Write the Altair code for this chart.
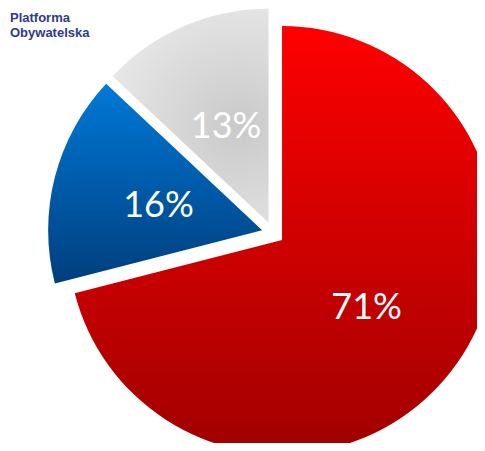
import math
import altair as alt
import pandas as pd

# data
categories = ["A", "B", "C"]
values = [71, 16, 13]
labels = ["71%", "16%", "13%"]
order = [0, 1, 2]

logo_lines = ["Platforma", "Obywatelska"]

df = pd.DataFrame({"name": categories, "value": values, "label": labels, "order": order})

CX, CY = 265.1, 225.1   # pie centre in view pixels
EXPLODE = 11.3
R = 214
LR = 107

def grad_linear(c0, c1):
    return alt.Gradient(
        gradient="linear",
        stops=[alt.GradientStop(color=c0, offset=0), alt.GradientStop(color=c1, offset=1)],
        x1=0, x2=0, y1=0, y2=1,
    )

fills = {
    "A": grad_linear("#FF0000", "#A00000"),
    "B": grad_linear("#0079D6", "#003E7E"),
    "C": alt.Gradient(
        gradient="radial",
        stops=[alt.GradientStop(color="#C9C9C9", offset=0), alt.GradientStop(color="#EDEDED", offset=1)],
        x1=0.72, y1=0.55, r1=0, x2=0.72, y2=0.55, r2=0.75,
    ),
}

base = (
    alt.Chart(df)
    .transform_window(cum="sum(value)", sort=[alt.SortField("order")], frame=[None, 0])
    .transform_calculate(
        start="(datum.cum - datum.value) / 100 * 2 * PI",
        end="datum.cum / 100 * 2 * PI",
    )
    .transform_calculate(mid="(datum.start + datum.end) / 2")
    .transform_calculate(
        cx=f"{CX} + {EXPLODE} * sin(datum.mid)",
        cy=f"{CY} - {EXPLODE} * cos(datum.mid)",
    )
    .transform_calculate(
        lx=f"datum.cx + {LR} * sin(datum.mid)",
        ly=f"datum.cy - {LR} * cos(datum.mid)",
    )
)

layers = []
for cat in categories:
    layers.append(
        base.transform_filter(alt.datum.name == cat)
        .mark_arc(outerRadius=R, color=fills[cat], strokeWidth=0)
        .encode(
            theta=alt.Theta("start:Q", scale=None),
            theta2="end:Q",
            x=alt.X("cx:Q", scale=None, axis=None),
            y=alt.Y("cy:Q", scale=None, axis=None),
        )
    )

text = base.mark_text(font="Lato", fontSize=36, color="white", align="center", baseline="middle", dy=2).encode(
    x=alt.X("lx:Q", scale=None, axis=None),
    y=alt.Y("ly:Q", scale=None, axis=None),
    text="label:N",
)
layers.append(text)

logo_df = pd.DataFrame({"t": logo_lines, "row": [0, 1]})
logo = (
    alt.Chart(logo_df)
    .transform_calculate(py="10 + datum.row * 15")
    .mark_text(
        font="Liberation Sans", fontSize=13, fontWeight="bold", color="#2E3A8C",
        align="left", baseline="middle",
    )
    .encode(
        x=alt.value(2),
        y=alt.Y("py:Q", scale=None, axis=None),
        text="t:N",
    )
)
layers.append(logo)

chart = (
    alt.layer(*layers)
    .properties(width=469, height=435, autosize=alt.AutoSizeParams(type="none"), padding=0)
    .configure_view(stroke=None)
)

chart.save("out.html", embed_options={"renderer": "svg", "actions": False})
